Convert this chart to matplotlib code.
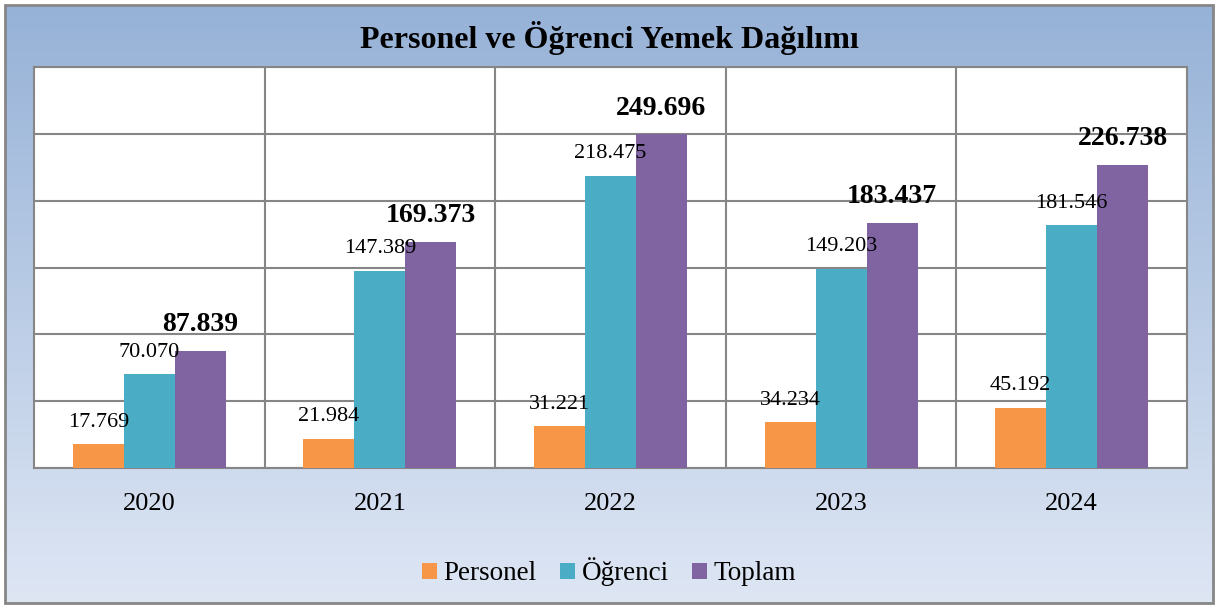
import numpy as np
import matplotlib
matplotlib.use("Agg")
import matplotlib.pyplot as plt
from matplotlib.patches import Rectangle, Patch

# veriler (bin kişi)
years = ["2020", "2021", "2022", "2023", "2024"]
personel = [17.769, 21.984, 31.221, 34.234, 45.192]
ogrenci = [70.070, 147.389, 218.475, 149.203, 181.546]
toplam = [87.839, 169.373, 249.696, 183.437, 226.738]
series_names = ["Personel", "Öğrenci", "Toplam"]
colors = ["#f79646", "#4bacc6", "#8064a2"]

plt.rcParams['font.family'] = ['Liberation Serif', 'DejaVu Serif']

W, H = 1218, 608
fig = plt.figure(figsize=(W / 100, H / 100), dpi=100)
fig.patch.set_facecolor("white")

# arka plan gradyanı
bg = fig.add_axes([0, 0, 1, 1], zorder=-10)
top_c = np.array([0x96, 0xb2, 0xd7]) / 255.0
bot_c = np.array([0xde, 0xe6, 0xf4]) / 255.0
t = np.linspace(0, 1, 256)[:, None]
grad = top_c[None, :] * (1 - t) + bot_c[None, :] * t
bg.imshow(grad[:, None, :], aspect="auto", extent=[5 / W, 1 - 5 / W, 5 / H, 1 - 5 / H],
          interpolation="bilinear")
bg.set_xlim(0, 1)
bg.set_ylim(0, 1)
bg.add_patch(Rectangle((5 / W, 5 / H), 1 - 10 / W, 1 - 10 / H, fill=False,
                       edgecolor="#868686", lw=2))
bg.axis("off")

ax = fig.add_axes([34 / W, 1 - 468 / H, (1187 - 34) / W, (468 - 67) / H])
ax.set_facecolor("white")

x = np.arange(len(years))
bw = 0.221
data = [personel, ogrenci, toplam]
for k, (vals, c) in enumerate(zip(data, colors)):
    xs = x + (k - 1) * bw
    ax.bar(xs, vals, width=bw, color=c, zorder=3, linewidth=0)
    for xi, v in zip(xs, vals):
        lbl = f"{v:.3f}"
        if k == 2:
            ax.annotate(lbl, (xi, v), xytext=(0, 26), textcoords="offset pixels",
                        ha="center", va="center", fontsize=20, fontweight="bold", zorder=5)
        else:
            ax.annotate(lbl, (xi, v), xytext=(0, 22), textcoords="offset pixels",
                        ha="center", va="center", fontsize=16, zorder=5)

ax.set_xlim(-0.5, len(years) - 0.5)
ax.set_ylim(0, 300)
ax.set_yticks(np.arange(0, 301, 50))
ax.set_yticklabels([])
ax.tick_params(axis="y", length=0)
ax.set_xticks(x)
ax.set_xticklabels(years, fontsize=19)
ax.tick_params(axis="x", length=0, pad=18)
ax.set_xticks(np.arange(0.5, len(years) - 0.5, 1), minor=True)
ax.tick_params(axis="x", which="minor", length=0)
ax.grid(axis="y", which="major", color="#868686", lw=1.5, zorder=1)
ax.grid(axis="x", which="minor", color="#868686", lw=1.5, zorder=1)
ax.grid(axis="x", which="major", visible=False)
for s in ax.spines.values():
    s.set_color("#868686")
    s.set_linewidth(1.5)

fig.text(0.5, 1 - 38 / H, "Personel ve Öğrenci Yemek Dağılımı", ha="center", va="center",
         fontsize=23, fontweight="bold")

handles = [Patch(facecolor=c, edgecolor="none") for c in colors]
fig.legend(handles, series_names, loc="center", bbox_to_anchor=(0.5, 1 - 572 / H),
           ncol=3, frameon=False, fontsize=19.5, handlelength=0.55, handleheight=0.55,
           handletextpad=0.25, columnspacing=0.85)

fig.savefig("out.png", dpi=100)
